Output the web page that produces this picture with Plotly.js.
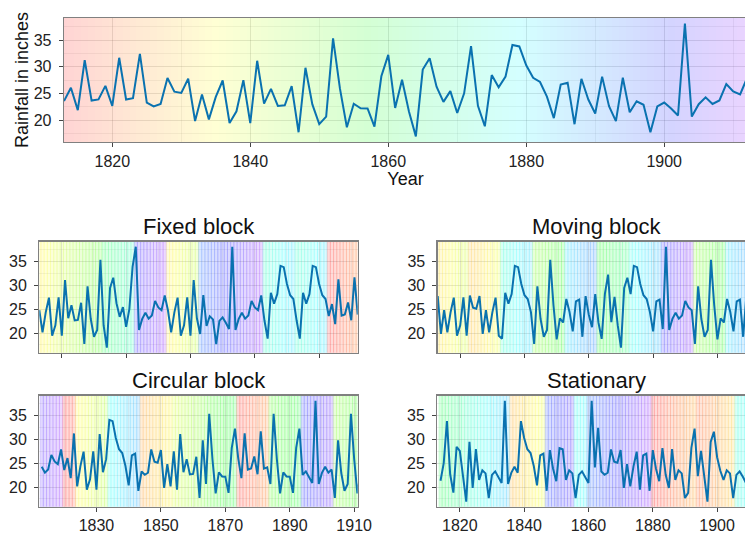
<!DOCTYPE html>
<html><head><meta charset="utf-8">
<script src="https://cdn.plot.ly/plotly-3.0.1.min.js"></script>
<style>html,body{margin:0;padding:0;overflow:hidden;background:#fff}#chart{width:760px;height:535px}</style>
</head><body><div id="chart"></div>
<script>
// Annual rainfall in London (inches), 1813-1912
const startYear = 1813;
const rainfall = [
 23.56,26.07,21.86,31.24,23.65,23.88,26.41,22.67,31.69,23.86,
 24.11,32.43,23.26,22.57,23.00,27.88,25.32,25.08,27.76,19.82,
 24.78,20.12,24.34,27.42,19.44,21.63,27.49,19.43,31.13,23.09,
 25.85,22.65,22.75,26.36,17.70,29.81,22.93,19.22,20.63,35.34,
 25.89,18.65,23.06,22.21,22.18,18.77,28.21,32.24,22.27,27.57,
 21.59,16.93,29.48,31.60,26.25,23.40,25.42,21.32,25.02,33.86,
 22.67,18.82,28.44,26.16,28.17,34.08,33.82,30.28,27.92,27.14,
 24.40,20.35,26.64,27.01,19.21,27.74,23.85,21.23,28.15,22.61,
 19.80,27.94,21.47,23.52,22.86,17.69,22.54,23.28,22.17,20.84,
 38.10,20.65,22.97,24.26,23.01,23.67,26.75,25.36,24.79,27.88];

// Bootstrap samples as [source start year, block length]
const fixedBlocks = [[1833,10],[1843,10],[1863,10],[1903,10],[1833,10],[1893,10],[1903,10],[1873,10],[1873,10],[1813,10]];
const movingBlocks = [[1831,10],[1828,10],[1874,10],[1847,10],[1882,10],[1857,10],[1877,10],[1902,10],[1847,10],[1882,10]];
const circularBlocks = [[1906,1],[1907,10],[1834,10],[1878,10],[1825,10],[1839,10],[1851,10],[1814,10],[1851,10],[1899,10],[1847,9]];
const stationaryBlocks = [[1870,6],[1862,4],[1893,15],[1879,13],[1894,10],[1823,15],[1885,14],[1858,11],[1895,12]];
// background shading source years seen in the stationary panel
const stationaryShade = [[1862,8],[1872,14],[1827,11],[1897,9],[1877,4],[1893,20],[1813,14],[1819,12],[1875,8]];

// first year of each panel's series and axis ranges
const circularStart = 1813, stationaryStart = 1814;
const circularRange = [1812.25, 1911.1];

const N = rainfall.length;
function expand(blocks){
  const out = [];
  blocks.forEach(([y,n]) => { for (let k=0;k<n;k++) out.push(((y-startYear)+k) % N); });
  return out;
}
function hsv(h){
  const x = 1 - Math.abs((h/60)%2 - 1); let r,g,b;
  if (h<60){r=1;g=x;b=0}else if(h<120){r=x;g=1;b=0}else if(h<180){r=0;g=1;b=x}
  else if(h<240){r=0;g=x;b=1}else if(h<300){r=x;g=0;b=1}else{r=1;g=0;b=x}
  return [r,g,b].map(v=>Math.round(v*255));
}
function tint(idx,a){ const [r,g,b]=hsv(idx/(N-1)*270); return `rgba(${r},${g},${b},${a})`; }

const yMin = Math.min(...rainfall), yMax = Math.max(...rainfall);
const pad = (yMax-yMin)*0.05;
const yRange = [yMin-pad, yMax+pad];
const identity = rainfall.map((_,i)=>i);

const panels = [
  {src: identity, shade: identity, x0: startYear, xa:'x', ya:'y', lw:0, fa:0.17},
  {src: expand(fixedBlocks), shade: expand(fixedBlocks), x0: startYear, xa:'x2', ya:'y2', lw:0.4, fa:0.15},
  {src: expand(movingBlocks), shade: expand(movingBlocks), x0: startYear, xa:'x3', ya:'y3', lw:0.4, fa:0.15},
  {src: expand(circularBlocks), shade: expand(circularBlocks), x0: circularStart, xa:'x4', ya:'y4', lw:0.4, fa:0.15},
  {src: expand(stationaryBlocks), shade: expand(stationaryShade), x0: stationaryStart, xa:'x5', ya:'y5', lw:0.4, fa:0.15}
];

const traces = [];
panels.forEach(p => {
  const xs = p.src.map((_,i)=>p.x0+i);
  traces.push({type:'bar', x: xs, y: xs.map(()=>yRange[1]-yRange[0]), base: yRange[0], width: 1,
    marker:{color: p.shade.map(s=>tint(s,p.fa)), line:{color: p.shade.map(s=>tint(s,0.3)), width: p.lw}},
    xaxis:p.xa, yaxis:p.ya, hoverinfo:'skip', showlegend:false});
  traces.push({type:'scatter', mode:'lines', x: xs, y: p.src.map(s=>rainfall[s]),
    line:{color:'#0a72b0', width:2}, xaxis:p.xa, yaxis:p.ya, showlegend:false});
});

const W = 760, H = 535;
function dx(a,b){ return [a/W, b/W]; }
function dy(top,bot){ return [1-bot/H, 1-top/H]; }
const grid = 'rgba(60,60,60,0.14)', minorGrid = 'rgba(60,60,60,0.07)';
function xax(dom, anchor, range, tick0, showLabels){
  return {domain: dom, anchor: anchor, range: range, tick0: tick0, dtick: 20, ticks:'outside', ticklen:4, tickcolor:'#444',
    showticklabels: showLabels, tickfont:{family:'Liberation Sans, Arial, sans-serif', size:16, color:'#222'},
    showline:true, mirror:true, linecolor:'#808080', linewidth:1.3, showgrid:true, gridcolor:grid, zeroline:false,
    minor:{dtick:10, tick0: tick0, showgrid:true, gridcolor:minorGrid, ticks:''}, fixedrange:true};
}
function yax(dom, anchor){
  return {domain: dom, anchor: anchor, range: yRange, tick0: 20, dtick: 5, ticks:'outside', ticklen:4, tickcolor:'#444',
    tickfont:{family:'Liberation Sans, Arial, sans-serif', size:16, color:'#222'}, ticklabelstandoff: 4,
    showline:true, mirror:true, linecolor:'#808080', linewidth:1.3, showgrid:true, gridcolor:grid, zeroline:false,
    minor:{dtick:2.5, showgrid:true, gridcolor:minorGrid, ticks:''}, fixedrange:true};
}

const layout = {
  width: W, height: H, margin:{l:0,r:0,t:0,b:0}, paper_bgcolor:'#fff', plot_bgcolor:'#fff',
  font:{family:'Liberation Sans, Arial, sans-serif', color:'#111'}, bargap:0,
  xaxis: Object.assign(xax(dx(64,747),'y',[1813,1912],1820,true), {title:{text:'Year', font:{size:18}, standoff:2}}),
  yaxis: Object.assign(yax(dy(18,142),'x'), {title:{text:'Rainfall in inches', font:{size:18}, standoff:0}}),
  xaxis2: xax(dx(39.3,357.7),'y2',[1813,1912],1820,false),
  yaxis2: yax(dy(241.7,352.7),'x2'),
  xaxis3: xax(dx(437.7,756),'y3',[1813,1912],1820,false),
  yaxis3: yax(dy(241.7,352.7),'x3'),
  xaxis4: xax(dx(39.3,357.7),'y4',circularRange,1830,true),
  yaxis4: yax(dy(395.7,506.7),'x4'),
  xaxis5: xax(dx(437.3,755.7),'y5',[1813,1912],1820,true),
  yaxis5: yax(dy(395.7,506.7),'x5'),
  annotations: [
    ['Fixed block','x2','y2'],['Moving block','x3','y3'],['Circular block','x4','y4'],['Stationary','x5','y5']
  ].map(([t,xa,ya])=>({text:t, xref:xa+' domain', yref:ya+' domain', x:0.5, y:1, xanchor:'center', yanchor:'bottom',
     yshift:1, showarrow:false, font:{size:22, color:'#111'}}))
};

Plotly.newPlot('chart', traces, layout, {staticPlot:true, displayModeBar:false});
</script></body></html>
